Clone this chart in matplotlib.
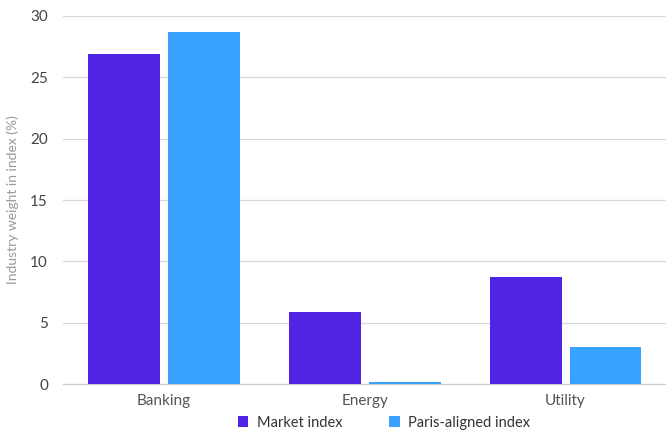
import numpy as np
import matplotlib.pyplot as plt

plt.rcParams['font.family'] = ['Lato', 'DejaVu Sans']

industries = ['Banking', 'Energy', 'Utility']
market = [26.9, 5.9, 8.7]
paris = [28.7, 0.15, 3.0]

fig = plt.figure(figsize=(6.66, 4.32), dpi=100)
ax = fig.add_axes([0.095, 0.111, 0.905, 0.852])

x = np.arange(len(industries))
w = 0.358
ax.bar(x - w/2 - 0.02, market, w, color='#5123E3', label='Market index', zorder=3)
ax.bar(x + w/2 + 0.02, paris, w, color='#38A2FE', label='Paris-aligned index', zorder=3)

ax.set_xlim(-0.5, 2.5)
ax.set_ylim(0, 30)
ax.set_yticks([0, 5, 10, 15, 20, 25, 30])
ax.set_xticks(x)
ax.set_xticklabels(industries)
ax.yaxis.grid(True, color='#d9d9d9', linewidth=0.9, zorder=0)
for s in ['top', 'right', 'left']:
    ax.spines[s].set_visible(False)
ax.spines['bottom'].set_color('#cccccc')
ax.tick_params(axis='y', length=0, labelsize=11, colors='#444444', pad=11)
ax.tick_params(axis='x', length=0, labelsize=11, colors='#555555', pad=7)
ax.set_ylabel('Industry weight in index (%)', fontsize=10, color='#999999', labelpad=8)

leg = fig.legend(loc='lower center', bbox_to_anchor=(0.577, -0.025), ncol=2, frameon=False,
                 fontsize=10.5, handlelength=0.7, handleheight=0.7, columnspacing=3.2,
                 handletextpad=0.6)
for t in leg.get_texts():
    t.set_color('#333333')

fig.savefig('out.png', dpi=100)
